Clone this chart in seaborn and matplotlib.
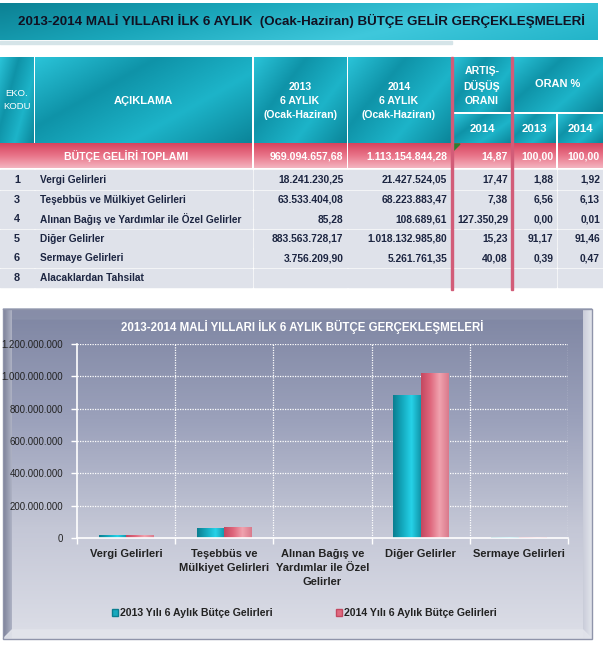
import numpy as np
import pandas as pd
import matplotlib
matplotlib.use("Agg")
import matplotlib.pyplot as plt
import seaborn as sns
from matplotlib.colors import LinearSegmentedColormap, to_hex
from matplotlib.patches import Rectangle, Polygon, Patch
from matplotlib.ticker import FuncFormatter, FixedLocator

# ---------------- data ----------------
codes = ["1", "3", "4", "5", "6", "8"]
descriptions = ["Vergi Gelirleri", "Teşebbüs ve Mülkiyet Gelirleri",
                "Alınan Bağış ve Yardımlar ile Özel Gelirler", "Diğer Gelirler",
                "Sermaye Gelirleri", "Alacaklardan Tahsilat"]
rev_2013 = [18241230.25, 63533404.08, 85.28, 883563728.17, 3756209.90, np.nan]
rev_2014 = [21427524.05, 68223883.47, 108689.61, 1018132985.80, 5261761.35, np.nan]
change_pct = [17.47, 7.38, 127350.29, 15.23, 40.08, np.nan]
share_2013 = [1.88, 6.56, 0.00, 91.17, 0.39, np.nan]
share_2014 = [1.92, 6.13, 0.01, 91.46, 0.47, np.nan]
total_label = "BÜTÇE GELİRİ TOPLAMI"
total_2013 = 969094657.68
total_2014 = 1113154844.28
total_change = 14.87
total_share_2013 = 100.00
total_share_2014 = 100.00

chart_categories = ["Vergi Gelirleri", "Teşebbüs ve\nMülkiyet Gelirleri",
                    "Alınan Bağış ve\nYardımlar ile Özel\nGelirler", "Diğer Gelirler",
                    "Sermaye Gelirleri"]
chart_2013 = rev_2013[:5]
chart_2014 = rev_2014[:5]
series_names = ["2013 Yılı 6 Aylık Bütçe Gelirleri", "2014 Yılı 6 Aylık Bütçe Gelirleri"]
y_ticks = [0, 200000000, 400000000, 600000000, 800000000, 1000000000, 1200000000]

table_title = "2013-2014 MALİ YILLARI İLK 6 AYLIK  (Ocak-Haziran) BÜTÇE GELİR GERÇEKLEŞMELERİ"
chart_title = "2013-2014 MALİ YILLARI İLK 6 AYLIK BÜTÇE GERÇEKLEŞMELERİ"

# ---------------- helpers ----------------
W, H = 603, 647
SANS = "Liberation Sans"


def tr(v, dec=2):
    if v is None or (isinstance(v, float) and np.isnan(v)):
        return ""
    s = f"{v:,.{dec}f}"
    return s.replace(",", "X").replace(".", ",").replace("X", ".")


def grad(ax, x0, y0, x1, y1, colors, angle=90, z=1, n=80):
    xs = np.linspace(0, 1, n)
    ys = np.linspace(0, 1, n)
    X, Y = np.meshgrid(xs, ys)
    th = np.deg2rad(angle)
    T = X * np.cos(th) + Y * np.sin(th)
    T = (T - T.min()) / (T.max() - T.min())
    cmap = LinearSegmentedColormap.from_list("g", colors)
    ax.imshow(T, cmap=cmap, extent=(x0, x1, y1, y0), origin="upper",
              aspect="auto", zorder=z, interpolation="bilinear")


sns.set_theme(style="white")
plt.rcParams["font.family"] = [SANS, "DejaVu Sans"]

fig = plt.figure(figsize=(W / 100, H / 100), dpi=100)
fig.patch.set_facecolor("white")
bg = fig.add_axes([0, 0, 1, 1])
bg.set_axis_off()
renderer = fig.canvas.get_renderer()


def fit_width(t, target):
    bb = t.get_window_extent(renderer)
    t.set_fontsize(t.get_fontsize() * target / bb.width)


TEAL = ["#2ac3d8", "#0f93a8", "#1db4c9", "#0b8599"]
TXT = "#1c2541"

# ---------------- banner ----------------
grad(bg, 0, 3, 598, 40, ["#0c8194", "#1aa6ba", "#3fc8dc", "#23b4c9"], angle=15, z=1)
bg.add_patch(Rectangle((0, 41), 452, 2.5, color="#d5e4e8", zorder=1))
t_title = bg.text(302, 21, table_title, ha="center", va="center", fontsize=10,
                  fontweight="bold", color="#111122", zorder=3)

# ---------------- header cells ----------------
hdr_cells = [(0, 57, 33.5, 143), (35, 57, 252, 143), (254, 57, 346.5, 143),
             (348, 57, 450.5, 143), (453.5, 57, 511, 112), (453.5, 114, 511, 143),
             (513, 57, 603, 112), (513, 114, 556, 143), (558, 114, 603, 143)]
for (x0, y0, x1, y1) in hdr_cells:
    grad(bg, x0, y0, x1, y1, TEAL, angle=35, z=1)

hfs = 7.6
bg.text(17, 100, "EKO.\nKODU", ha="center", va="center", fontsize=6.8, color="white",
        linespacing=1.6, zorder=3)
bg.text(143, 101, "AÇIKLAMA", ha="center", va="center", fontsize=hfs + 0.4, color="white",
        fontweight="bold", zorder=3)
bg.text(300, 101, "2013\n6 AYLIK\n(Ocak-Haziran)", ha="center", va="center", fontsize=hfs,
        color="white", fontweight="bold", linespacing=1.5, zorder=3)
bg.text(399, 101, "2014\n6 AYLIK\n(Ocak-Haziran)", ha="center", va="center", fontsize=hfs,
        color="white", fontweight="bold", linespacing=1.5, zorder=3)
bg.text(482, 86, "ARTIŞ-\nDÜŞÜŞ\nORANI", ha="center", va="center", fontsize=hfs,
        color="white", fontweight="bold", linespacing=1.45, zorder=3)
bg.text(558, 84, "ORAN %", ha="center", va="center", fontsize=hfs + 0.3,
        color="white", fontweight="bold", zorder=3)
for xc, lab in [(482, "2014"), (534.5, "2013"), (580.5, "2014")]:
    bg.text(xc, 129, lab, ha="center", va="center", fontsize=hfs + 0.6,
            color="white", fontweight="bold", zorder=3)

# ---------------- total row ----------------
col_bounds = [(0, 252), (254, 346.5), (348, 450.5), (453.5, 511), (513, 556), (558, 603)]
for (x0, x1) in col_bounds:
    grad(bg, x0, 144, x1, 168.5, ["#d6445e", "#e97489", "#f4b4c0"], angle=90, z=1)
bg.add_patch(Polygon([(453.5, 144), (460, 144), (453.5, 150.5)], color="#2f7d2f", zorder=3))
NFS = 7.4
yc = 156.5
bg.text(126, yc, total_label, ha="center", va="center", fontsize=7.6, color="white",
        fontweight="bold", zorder=3)
tot_vals = [(343.5, tr(total_2013)), (447, tr(total_2014)), (508, tr(total_change)),
            (553.5, tr(total_share_2013)), (600, tr(total_share_2014))]
for xr, s in tot_vals:
    bg.text(xr, yc, s, ha="right", va="center", fontsize=NFS + 0.2, color="white",
            fontweight="bold", zorder=3)

# ---------------- data rows ----------------
row_edges = [169.5, 190, 209.5, 229, 248.5, 268, 288]
row_cols = [(0, 33.5), (35, 252), (254, 346.5), (348, 450.5), (453.5, 511), (513, 556), (558, 603)]
for i in range(len(codes)):
    y0, y1 = row_edges[i] + 0.8, row_edges[i + 1] - 0.8
    for (x0, x1) in row_cols:
        bg.add_patch(Rectangle((x0, y0), x1 - x0, y1 - y0, color="#dfe2ea", zorder=1))
    yc = (row_edges[i] + row_edges[i + 1]) / 2
    bg.text(17, yc, codes[i], ha="center", va="center", fontsize=7.8, color=TXT,
            fontweight="bold", zorder=3)
    bg.text(40, yc, descriptions[i], ha="left", va="center", fontsize=7.3, color=TXT,
            fontweight="bold", zorder=3)
    vals = [(343.5, tr(rev_2013[i])), (447, tr(rev_2014[i])), (508, tr(change_pct[i])),
            (553.5, tr(share_2013[i])), (600, tr(share_2014[i]))]
    for xr, s in vals:
        bg.text(xr, yc, s, ha="right", va="center", fontsize=NFS, color=TXT,
                fontweight="bold", zorder=3)

# pink column separators
for xs in (452, 512):
    bg.add_patch(Rectangle((xs - 1.2, 57), 2.4, 233, color="#d25c78", zorder=4))

# ---------------- chart panel ----------------
PB = 639
grad(bg, 3, 309, 592, PB, ["#7f86a3", "#9ba1bb", "#c4c7d6", "#dcdee7"], angle=90, z=1)
bg.add_patch(Polygon([(3, 309), (592, 309), (582, 319), (13, 319)], color="#8a90aa", alpha=0.8, zorder=1.5))
grad(bg, 3, 309, 12, PB, ["#7c8199", "#aeb2c4"], angle=0, z=1.6)
grad(bg, 583, 309, 592, PB, ["#c9ccd9", "#e3e5ec"], angle=0, z=1.6)
bg.add_patch(Polygon([(3, PB), (592, PB), (583, PB - 9), (12, PB - 9)], color="#e2e4eb", alpha=0.9, zorder=1.7))
bg.add_patch(Rectangle((3, 309), 589, PB - 309, fill=False, ec="#8f94aa", lw=1, zorder=2))

t_chart = bg.text(302, 327, chart_title, ha="center", va="center", fontsize=8.5, color="white",
                  fontweight="bold", zorder=3)

bg.set_xlim(0, W)
bg.set_ylim(H, 0)

fit_width(t_title, 566)
fit_width(t_chart, 362)

# ---------------- bar chart ----------------
ax = fig.add_axes([77 / W, (H - 538) / H, (568 - 77) / W, (538 - 344) / H])
ax.set_facecolor("none")
df = pd.DataFrame({
    "Kategori": chart_categories * 2,
    "Gelir": list(chart_2013) + list(chart_2014),
    "Yıl": [series_names[0]] * len(chart_categories) + [series_names[1]] * len(chart_categories),
})
C13, C14 = "#17a9bd", "#e06a80"
sns.barplot(data=df, x="Kategori", y="Gelir", hue="Yıl", hue_order=series_names,
            palette=[C13, C14], width=0.56, gap=0, saturation=1, errorbar=None,
            legend=False, ax=ax, zorder=3)

grads = {C13: ["#0a7e90", "#13a9be", "#26d2e8", "#1196aa"],
         C14: ["#c44860", "#df677d", "#f0a3af", "#d97a8c"]}
for p in list(ax.patches):
    fc = to_hex(p.get_facecolor())
    key = C13 if abs(int(fc[1:3], 16) - 0x17) < 20 else C14
    x0, w, h = p.get_x(), p.get_width(), p.get_height()
    if h <= 0:
        continue
    cmap = LinearSegmentedColormap.from_list("b", grads[key])
    im = ax.imshow(np.linspace(0, 1, 64)[None, :], cmap=cmap, extent=(x0, x0 + w, 0, h),
                   aspect="auto", origin="lower", zorder=4, interpolation="bilinear")
    im.set_clip_path(p)
    p.set_edgecolor("none")

ax.set_xlim(-0.5, len(chart_categories) - 0.5)
ax.set_ylim(0, 1200000000)
ax.set_yticks(y_ticks)
ax.yaxis.set_major_formatter(FuncFormatter(lambda v, _: f"{int(round(v)):,}".replace(",", ".")))
ax.set_xlabel("")
ax.set_ylabel("")
for s in ("top", "right"):
    ax.spines[s].set_visible(False)
for s in ("left", "bottom"):
    ax.spines[s].set_color("white")
    ax.spines[s].set_linewidth(1.2)
    ax.spines[s].set_zorder(5)
ax.grid(False)
for yv in y_ticks[1:]:
    ax.axhline(yv, color="white", ls=(0, (1, 1)), lw=0.9, zorder=1)
for xv in np.arange(0.5, len(chart_categories) - 0.5 + 0.01, 1.0):
    ax.axvline(xv, color="white", ls=(0, (1, 1)), lw=0.9, zorder=1)
ax.tick_params(axis="y", labelcolor="#222222", labelsize=6.9, length=4, width=1, pad=6,
               direction="out", left=True, color="white")
ax.set_xticks(range(len(chart_categories)))
ax.set_xticklabels(chart_categories, fontsize=8.0, fontweight="bold", color="#222222",
                   linespacing=1.5, va="top")
ax.tick_params(axis="x", length=0, pad=8)
ax.xaxis.set_minor_locator(FixedLocator(np.arange(-0.5, len(chart_categories), 1.0)))
ax.tick_params(axis="x", which="minor", length=4, color="white", width=1, direction="out",
               bottom=True)

handles = [Patch(facecolor=C13, edgecolor="#0a7e90"), Patch(facecolor=C14, edgecolor="#c44860")]
leg = fig.legend(handles, series_names, loc="center", bbox_to_anchor=(304 / W, 1 - 613 / H),
                 ncol=2, frameon=False, handlelength=0.6, handleheight=0.7,
                 handletextpad=0.15, columnspacing=6.0,
                 prop={"family": [SANS], "weight": "bold", "size": 7.6})
for t in leg.get_texts():
    t.set_color("#222222")

fig.savefig("out.png", dpi=100, facecolor="white")
